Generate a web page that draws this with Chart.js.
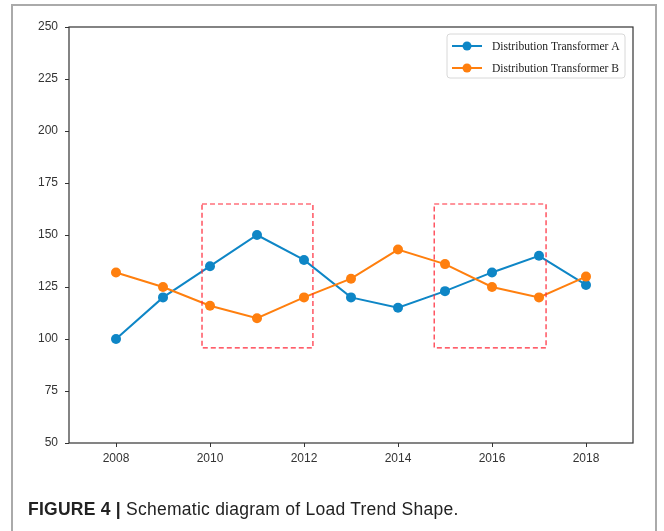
<!DOCTYPE html>
<html>
<head>
<meta charset="utf-8">
<script src="https://cdn.jsdelivr.net/npm/chart.js"></script>
<style>
  html, body { margin: 0; padding: 0; background: #fff; }
  #wrap { position: relative; width: 664px; height: 531px; overflow: hidden; }
  #frame {
    position: absolute; left: 11px; top: 4px; width: 646px; height: 540px;
    border: 2px solid #aaa; box-sizing: border-box;
  }
  #rtchart { position: absolute; left: 0; top: 0; }
  #caption {
    position: absolute; left: 28px; top: 499px; line-height: 20px;
    font-family: "Liberation Sans", Arial, sans-serif; font-size: 17.5px; color: #222;
    letter-spacing: 0.25px; white-space: nowrap;
  }
  #caption b { font-weight: bold; }
</style>
</head>
<body>
<div id="wrap">
  <div id="frame"></div>
  <canvas id="rtchart" width="664" height="531"></canvas>
  <div id="caption"><b>FIGURE 4 |</b> Schematic diagram of Load Trend Shape.</div>
</div>
<script>
// Data
const years = [2008, 2009, 2010, 2011, 2012, 2013, 2014, 2015, 2016, 2017, 2018];
const transformerA = [100, 120, 135, 150, 138, 120, 115, 123, 132, 140, 126];
const transformerB = [132, 125, 116, 110, 120, 129, 143, 136, 125, 120, 130];
const xTickLabels = [2008, 2010, 2012, 2014, 2016, 2018];
const yTickLabels = [50, 75, 100, 125, 150, 175, 200, 225, 250];
const seriesNames = ["Distribution Transformer A", "Distribution Transformer B"];

// Highlight boxes in data units: [xFrom, xTo, yFrom, yTo]
const boxA = [2009.83, 2012.19, 95.7, 164.9];
const boxB = [2014.77, 2017.15, 95.7, 164.9];

const blue = "#0e86c6";
const orange = "#ff7f0e";

// Full box round the plot, like matplotlib spines
const frameBox = {
  id: "frameBox",
  afterDraw(chart) {
    const { ctx, chartArea: a } = chart;
    ctx.save();
    ctx.strokeStyle = "#333";
    ctx.lineWidth = 1.2;
    ctx.strokeRect(a.left, a.top, a.right - a.left, a.bottom - a.top);
    ctx.restore();
  },
};

// Dashed red rectangles
const dashedBoxes = {
  id: "dashedBoxes",
  afterDatasetsDraw(chart) {
    const { ctx, scales } = chart;
    ctx.save();
    ctx.strokeStyle = "#ff2a3a";
    ctx.lineWidth = 1.2;
    ctx.setLineDash([5, 3]);
    [boxA, boxB].forEach((b) => {
      const x1 = scales.x.getPixelForValue(b[0]);
      const x2 = scales.x.getPixelForValue(b[1]);
      const y1 = scales.y.getPixelForValue(b[3]);
      const y2 = scales.y.getPixelForValue(b[2]);
      ctx.strokeRect(x1, y1, x2 - x1, y2 - y1);
    });
    ctx.restore();
  },
};

// Legend with line + marker, top right inside the plot
const lineLegend = {
  id: "lineLegend",
  afterDraw(chart) {
    const { ctx, chartArea: a } = chart;
    const w = 178, h = 44;
    const x = a.right - w - 8, y = a.top + 7;
    ctx.save();
    ctx.fillStyle = "rgba(255,255,255,0.9)";
    ctx.strokeStyle = "#d8d8d8";
    ctx.lineWidth = 1;
    ctx.beginPath();
    ctx.roundRect(x, y, w, h, 3);
    ctx.fill();
    ctx.stroke();
    ctx.font = '11.6px "Liberation Serif", "Times New Roman", serif';
    ctx.textBaseline = "middle";
    chart.data.datasets.forEach((ds, i) => {
      const cy = y + 12 + i * 22;
      ctx.strokeStyle = ds.borderColor;
      ctx.lineWidth = 2;
      ctx.beginPath();
      ctx.moveTo(x + 5, cy);
      ctx.lineTo(x + 35, cy);
      ctx.stroke();
      ctx.fillStyle = ds.borderColor;
      ctx.beginPath();
      ctx.arc(x + 20, cy, 4.5, 0, Math.PI * 2);
      ctx.fill();
      ctx.fillStyle = "#222";
      ctx.fillText(ds.label, x + 45, cy + 1);
    });
    ctx.restore();
  },
};

const tickFont = { family: '"Liberation Sans", Arial, sans-serif', size: 12 };

function main() {
  const ctx = document.getElementById("rtchart").getContext("2d");
  new Chart(ctx, {
    type: "line",
    data: {
      datasets: [
        {
          label: seriesNames[0],
          data: years.map((yr, i) => ({ x: yr, y: transformerA[i] })),
          borderColor: blue,
          backgroundColor: blue,
          borderWidth: 2,
          pointRadius: 5,
          pointHoverRadius: 5,
          pointBorderWidth: 0,
          tension: 0,
          order: 1,
        },
        {
          label: seriesNames[1],
          data: years.map((yr, i) => ({ x: yr, y: transformerB[i] })),
          borderColor: orange,
          backgroundColor: orange,
          borderWidth: 2,
          pointRadius: 5,
          pointHoverRadius: 5,
          pointBorderWidth: 0,
          tension: 0,
          order: 0,
        },
      ],
    },
    options: {
      responsive: false,
      animation: false,
      devicePixelRatio: 1,
      layout: { padding: { left: 0, top: 27, right: 31, bottom: 58 } },
      plugins: {
        legend: { display: false },
        tooltip: { enabled: false },
      },
      scales: {
        x: {
          type: "linear",
          min: 2007,
          max: 2019,
          afterBuildTicks: (axis) => {
            axis.ticks = xTickLabels.map((v) => ({ value: v }));
          },
          afterFit: (axis) => { axis.height = 30; },
          grid: { drawOnChartArea: false, drawTicks: true, tickLength: 4, color: "#333" },
          border: { display: false },
          ticks: { font: tickFont, color: "#333", padding: 4, callback: (v) => String(v), maxRotation: 0 },
        },
        y: {
          min: 50,
          max: 250,
          afterBuildTicks: (axis) => {
            axis.ticks = yTickLabels.map((v) => ({ value: v }));
          },
          afterFit: (axis) => { axis.width = 69; },
          grid: { drawOnChartArea: false, drawTicks: true, tickLength: 4, color: "#333" },
          border: { display: false },
          ticks: { font: tickFont, color: "#333", padding: 7 },
        },
      },
    },
    plugins: [frameBox, dashedBoxes, lineLegend],
  });
}

main();
</script>
</body>
</html>
